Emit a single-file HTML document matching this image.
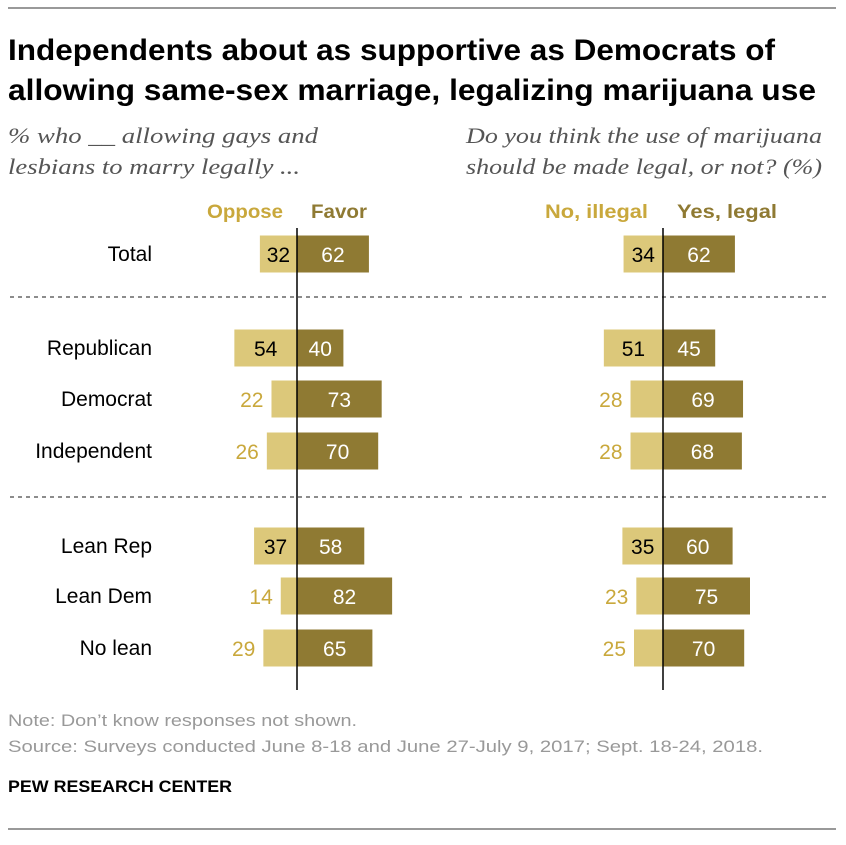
<!DOCTYPE html>
<html><head><meta charset="utf-8"><style>
body{margin:0;background:#fff;width:846px;height:840px;overflow:hidden;font-family:"Liberation Sans",sans-serif}
</style></head><body>
<svg width="846" height="840" font-family="Liberation Sans, sans-serif">
<line x1="8" y1="8" x2="836" y2="8" stroke="#333" stroke-width="1"/>
<text x="8" y="60" font-size="30" font-weight="bold" fill="#000" textLength="767" lengthAdjust="spacingAndGlyphs">Independents about as supportive as Democrats of</text>
<text x="8" y="100" font-size="30" font-weight="bold" fill="#000" textLength="808" lengthAdjust="spacingAndGlyphs">allowing same-sex marriage, legalizing marijuana use</text>
<g font-family="Liberation Serif, serif" font-style="italic" font-size="22" fill="#555">
<text x="8" y="143" textLength="310" lengthAdjust="spacingAndGlyphs">% who __ allowing gays and</text>
<text x="8" y="174" textLength="292" lengthAdjust="spacingAndGlyphs">lesbians to marry legally ...</text>
<text x="466" y="143" textLength="356" lengthAdjust="spacingAndGlyphs">Do you think the use of marijuana</text>
<text x="466" y="174" textLength="356" lengthAdjust="spacingAndGlyphs">should be made legal, or not? (%)</text>
</g>
<g font-size="19" font-weight="bold">
<text x="207" y="218" textLength="76" lengthAdjust="spacingAndGlyphs" fill="#c9a83c">Oppose</text>
<text x="311" y="218" textLength="56" lengthAdjust="spacingAndGlyphs" fill="#8f7a33">Favor</text>
<text x="545" y="218" textLength="103" lengthAdjust="spacingAndGlyphs" fill="#c9a83c">No, illegal</text>
<text x="677" y="218" textLength="100" lengthAdjust="spacingAndGlyphs" fill="#8f7a33">Yes, legal</text>
</g>
<g stroke="#666" stroke-width="1.5" stroke-dasharray="4,4">
<line x1="10" y1="297" x2="462" y2="297"/>
<line x1="470" y1="297" x2="830" y2="297"/>
<line x1="10" y1="497" x2="462" y2="497"/>
<line x1="470" y1="497" x2="830" y2="497"/>
</g>
<g id="bars"></g>
<line x1="297" y1="228" x2="297" y2="690" stroke="#000" stroke-width="1.5"/>
<line x1="663" y1="228" x2="663" y2="690" stroke="#000" stroke-width="1.5"/>
<text x="8" y="726" font-size="17" fill="#999" textLength="349" lengthAdjust="spacingAndGlyphs">Note: Don’t know responses not shown.</text>
<text x="8" y="752" font-size="17" fill="#999" textLength="755" lengthAdjust="spacingAndGlyphs">Source: Surveys conducted June 8-18 and June 27-July 9, 2017; Sept. 18-24, 2018.</text>
<text x="8" y="792" font-size="17" font-weight="bold" fill="#000" textLength="224" lengthAdjust="spacingAndGlyphs">PEW RESEARCH CENTER</text>
<line x1="8" y1="829" x2="836" y2="829" stroke="#333" stroke-width="1"/>
</svg>
<script>
const categories=["Total","Republican","Democrat","Independent","Lean Rep","Lean Dem","No lean"];
const oppose=[32,54,22,26,37,14,29];
const favor=[62,40,73,70,58,82,65];
const illegal=[34,51,28,28,35,23,25];
const legal=[62,45,69,68,60,75,70];
const rowY=[254,348,399,451,546,596,648];
const scale=1.16, barH=37;
const NS="http://www.w3.org/2000/svg";
const g=document.getElementById('bars');
function mk(tag,attrs){const e=document.createElementNS(NS,tag);for(const k in attrs)e.setAttribute(k,attrs[k]);g.appendChild(e);return e;}
function half(axis,negVals,posVals,prefix){
  categories.forEach((c,i)=>{
    const y=rowY[i];
    const wn=negVals[i]*scale, wp=posVals[i]*scale;
    const r1=mk('rect',{x:axis-wn,y:y-barH/2,width:wn,height:barH,fill:'#dcc87a'});
    
    
    const r2=mk('rect',{x:axis,y:y-barH/2,width:wp,height:barH,fill:'#8f7a33'});
    
    
    const inside=negVals[i]>=30;
    const t1=mk('text',{x:inside?axis-wn/2:axis-wn-8,y:y+8,'font-size':21,'text-anchor':inside?'middle':'end',fill:inside?'#000':'#c9a83c'});
    t1.textContent=negVals[i];
    
    
    const t2=mk('text',{x:axis+wp/2,y:y+8,'font-size':21,'text-anchor':'middle',fill:'#fff'});
    t2.textContent=posVals[i];
    
    
  });
}
categories.forEach((c,i)=>{
  const t=mk('text',{x:152,y:rowY[i]+7,'font-size':21,'text-anchor':'end',fill:'#000'});
  t.textContent=c;
  
  
});
half(297,oppose,favor,'marriage');
half(663,illegal,legal,'marijuana');
</script>
</body></html>
